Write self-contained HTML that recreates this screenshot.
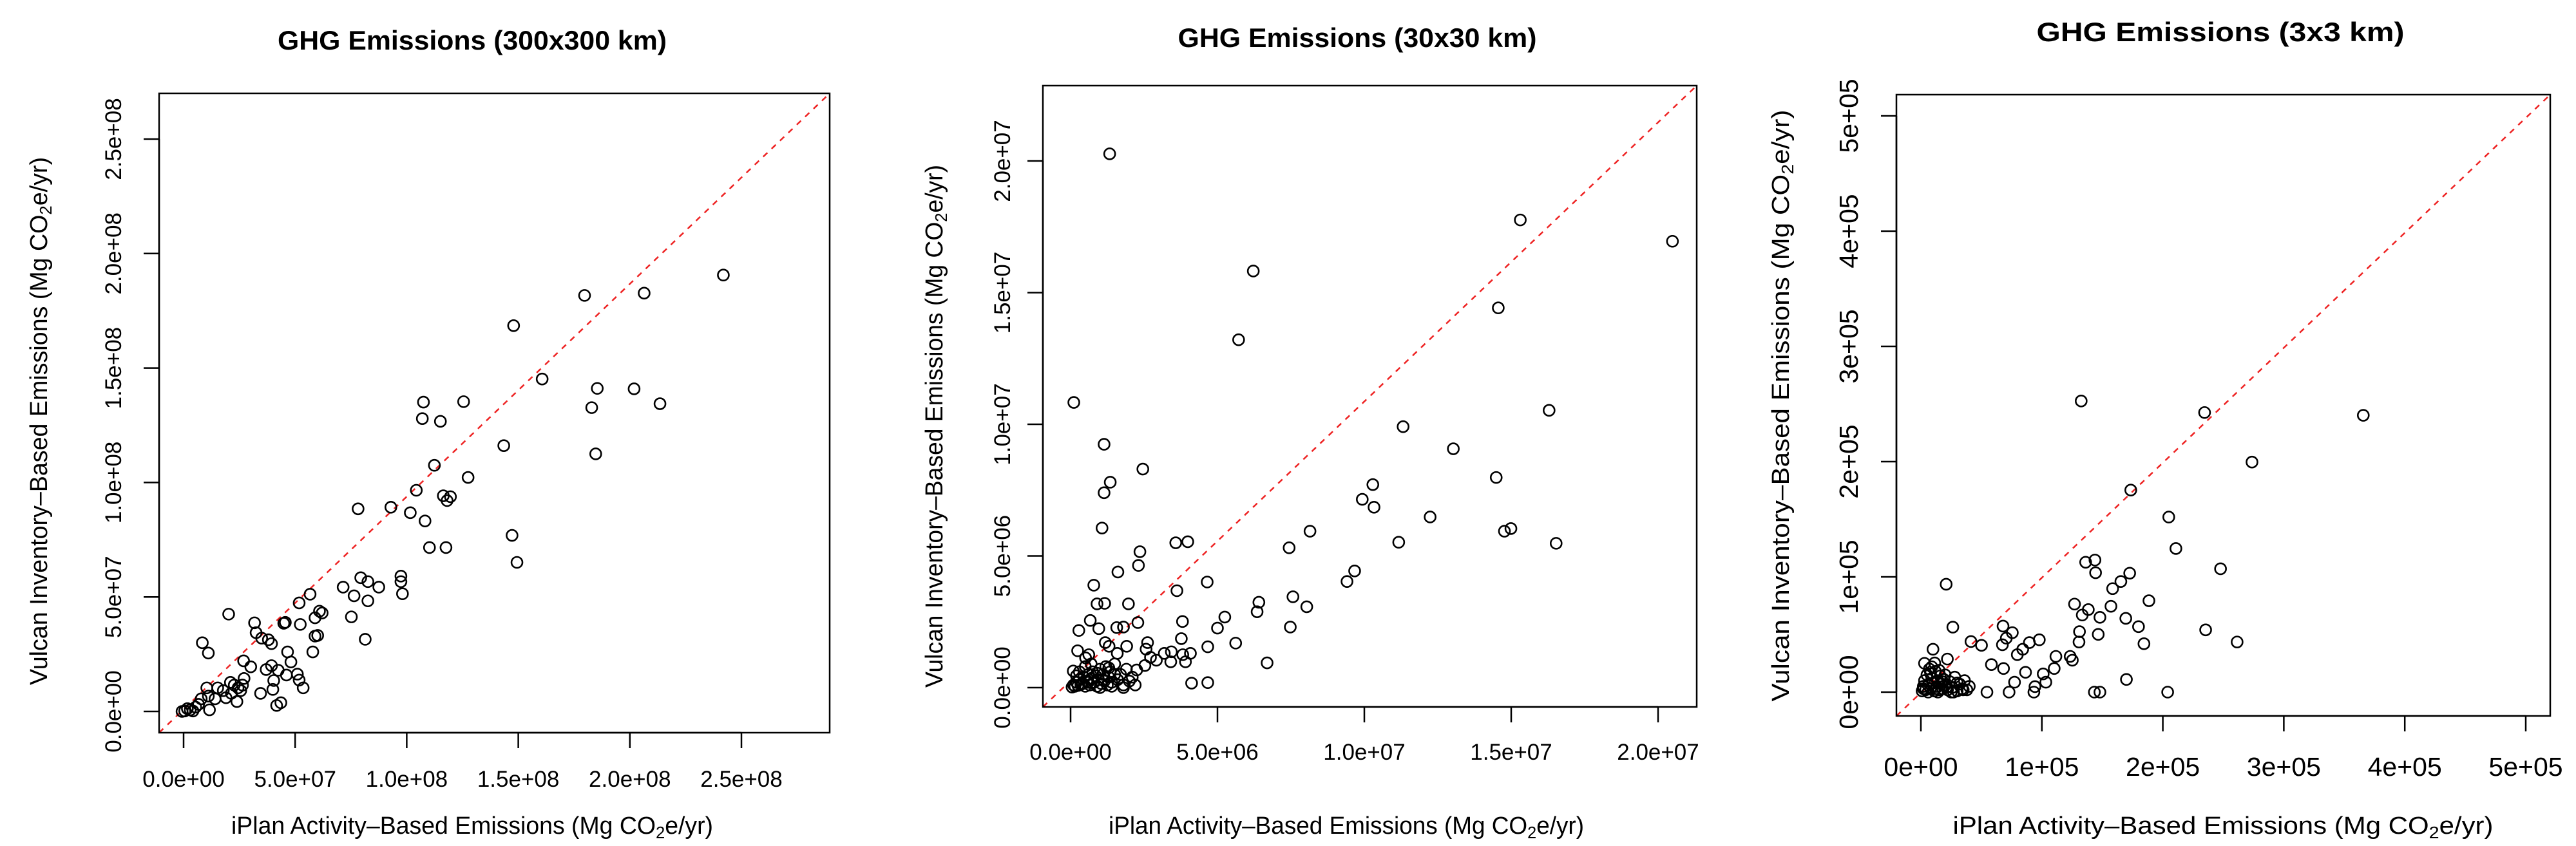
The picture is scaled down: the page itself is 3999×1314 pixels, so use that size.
<!DOCTYPE html>
<html><head><meta charset="utf-8"><style>
html,body{margin:0;padding:0;background:#fff;overflow:hidden;width:3999px;height:1314px;}
svg{display:block;font-family:"Liberation Sans",Arial,sans-serif;}
</style></head><body>
<svg id="chart" width="3999" height="1314" viewBox="0 0 3999 1314" xmlns="http://www.w3.org/2000/svg">
<rect width="3999" height="1314" fill="#fff"/>
</svg>
<script>
// ---------- Panel 1 (300x300 km), units 1e7 ----------
const p1X = [24.19,20.64,17.97,14.79,16.07,18.54,20.19,21.35,18.29,18.47,10.75,12.55,10.70,11.51,14.35,11.24,12.75,10.43,11.64,11.96,11.81,9.29,7.82,10.16,10.82,11.02,11.76,14.72,14.94,9.74,9.74,9.81,7.94,8.26,8.75,7.15,7.64,8.26,7.52,8.14,5.67,5.18,6.09,6.21,5.89,5.23,4.49,4.56,5.89,6.01,5.79,2.02,3.18,3.25,3.50,3.80,3.94,0.84,1.11,2.69,3.01,4.66,4.81,3.70,3.94,4.24,4.61,5.10,5.18,5.36,4.04,4.00,3.45,4.17,4.36,2.71,2.64,2.44,2.10,2.14,2.39,1.78,1.53,1.41,1.04,1.11,0.79,0.67,1.16,0.54,0.30,0.05,0.17,0.42,-0.07,1.90,2.27,2.56];
const p1Y = [19.06,18.27,18.17,16.85,14.52,14.11,14.09,13.44,13.27,11.25,13.51,13.53,12.79,12.67,11.61,10.75,10.22,9.66,9.42,9.38,9.21,8.92,8.85,8.68,8.32,7.16,7.16,7.69,6.51,5.91,5.67,5.14,5.84,5.67,5.43,5.43,5.05,4.83,4.13,3.15,5.12,4.74,4.38,4.30,4.09,3.80,3.85,3.89,3.29,3.32,2.60,4.25,3.87,3.44,3.20,3.13,2.96,3.00,2.55,2.21,1.95,2.60,2.16,1.83,2.00,1.80,1.59,1.63,1.37,1.03,1.35,0.96,0.79,0.26,0.38,1.44,1.15,1.03,1.27,0.79,0.43,0.91,1.03,0.55,1.03,0.67,0.55,0.31,0.07,0.19,0.07,0.02,0.12,0.02,0.00,0.60,1.15,0.91];
const p1Ticks = [0,5,10,15,20,25];
const p1Labels = ["0.0e+00","5.0e+07","1.0e+08","1.5e+08","2.0e+08","2.5e+08"];

// ---------- Panel 2 (30x30 km), units 1e6 ----------
const p2X = [1.33,15.31,20.49,6.22,14.56,5.72,0.11,16.29,11.32,1.14,13.03,2.46,1.35,1.14,10.29,14.49,9.93,10.33,12.24,1.07,8.15,14.77,14.99,7.44,11.17,16.53,3.58,3.99,2.36,2.31,1.61,0.79,4.65,3.62,9.67,9.41,0.90,1.16,1.97,6.41,6.35,7.57,8.04,5.25,5.00,7.48,3.81,2.29,0.67,0.96,0.28,1.57,1.80,5.62,4.67,6.69,4.12,4.67,3.77,3.82,4.08,3.91,3.41,3.19,3.43,2.62,2.57,2.72,2.92,2.53,2.25,1.91,1.59,1.18,1.31,0.24,0.62,0.51,0.09,
0.05,0.1,0.15,0.2,0.25,0.3,0.35,0.4,0.45,0.5,0.55,0.6,0.65,0.7,0.75,0.8,0.85,0.9,0.95,1.0,1.05,1.1,1.15,1.2,1.25,1.3,1.35,1.4,1.5,1.6,1.7,1.8,1.9,2.0,2.1,2.2,0.3,0.5,0.7,0.9,1.1,1.3,1.5,0.2,0.6,1.0,1.4,1.8];
const p2Y = [20.27,17.76,16.95,15.82,14.42,13.21,10.83,10.53,9.91,9.24,9.07,8.30,7.80,7.40,7.71,7.98,7.15,6.85,6.48,6.06,5.94,5.94,6.04,5.31,5.52,5.48,5.50,5.54,5.16,4.64,4.39,3.89,4.01,3.68,4.43,4.03,3.18,3.20,3.18,3.24,2.88,3.45,3.07,2.68,2.26,2.30,2.51,2.47,2.55,2.24,2.17,2.28,2.30,1.69,1.55,0.94,0.17,0.19,1.86,1.25,1.30,0.98,0.98,1.30,1.36,1.71,1.46,1.15,1.04,0.84,0.67,1.57,1.30,1.71,1.57,1.40,1.25,1.13,0.63,
0.02,0.1,0.05,0.2,0.08,0.3,0.12,0.15,0.4,0.05,0.25,0.5,0.1,0.35,0.6,0.2,0.45,0.05,0.3,0.7,0.15,0.5,0.25,0.8,0.1,0.4,0.6,0.2,0.9,0.3,0.5,0.1,0.7,0.25,0.4,0.1,0.6,0.8,0.9,0.55,0.3,0.75,0.5,0.45,0.2,0.0,0.05,0.0];
const p2Ticks = [0,5,10,15,20];
const p2Labels = ["0.0e+00","5.0e+06","1.0e+07","1.5e+07","2.0e+07"];

// ---------- Panel 3 (3x3 km), units 1e4 ----------
const p3X = [13.25,23.45,36.57,27.37,17.35,20.49,21.08,24.77,13.62,14.39,14.44,17.26,16.53,15.85,18.85,12.70,13.84,15.71,13.34,14.80,16.94,17.99,13.11,14.66,13.07,18.44,23.54,26.14,2.09,2.64,4.14,5.01,6.79,7.56,7.06,6.74,9.79,8.97,8.42,7.97,11.16,12.34,12.52,11.02,10.11,10.33,9.43,9.34,8.65,7.74,7.29,16.99,14.34,14.80,20.40,1.00,2.19,1.14,5.83,6.83,5.46,
0.1,0.2,0.3,0.4,0.5,0.6,0.7,0.8,0.9,1.0,1.1,1.2,1.3,1.4,1.5,1.6,1.7,1.8,1.9,2.0,2.2,2.4,2.6,2.8,3.0,3.2,3.4,3.6,3.8,4.0,0.3,0.6,0.9,1.2,1.5,1.8,2.1,2.5,3.0,3.5,0.2,0.8,1.4,2.0,2.7];
const p3Y = [25.26,24.26,24.02,19.96,17.53,15.19,12.46,10.70,11.27,11.46,10.36,10.32,9.60,8.98,7.93,7.64,7.16,7.45,6.69,6.49,6.40,5.68,5.25,5.01,4.35,4.20,5.40,4.35,9.36,5.64,4.39,4.06,5.73,5.16,4.68,4.11,4.54,4.30,3.72,3.25,3.10,3.10,2.77,2.05,1.58,0.86,0.48,0.00,1.72,0.86,0.00,1.10,0.00,0.00,0.00,3.72,2.87,2.53,2.39,2.05,0.00,
0.1,0.5,1.0,0.2,1.5,0.6,2.0,0.3,1.2,0.8,0.1,1.8,0.5,1.0,0.2,1.4,0.7,0.3,1.1,0.6,0.2,0.9,0.4,1.3,0.1,0.7,0.3,1.0,0.2,0.5,2.5,0.0,2.2,0.3,1.9,0.9,0.4,0.0,0.8,0.2,0.3,1.6,0.0,1.5,0.0];
const p3Ticks = [0,10,20,30,40,50];
const p3Labels = ["0e+00","1e+05","2e+05","3e+05","4e+05","5e+05"];

const NS = "http://www.w3.org/2000/svg";
const svg = document.getElementById("chart");
function mk(tag, attrs, parent) {
  const e = document.createElementNS(NS, tag);
  for (const k in attrs) e.setAttribute(k, attrs[k]);
  (parent || svg).appendChild(e);
  return e;
}

const panels = [
  {id:"p1", xs:p1X, ys:p1Y, ticks:p1Ticks, labels:p1Labels, title:"GHG Emissions (300x300 km)",
   box:[247,145,1288,1138], x0:285, xk:34.64, y0:1105, yk:35.56,
   tickFont:35, xLabY:1222, yLabX:188, titleX:733, titleY:77, titleW:604,
   xtX:733, xtY:1295, xtW:748, ytX:73, ytY:654, ytW:820},
  {id:"p2", xs:p2X, ys:p2Y, ticks:p2Ticks, labels:p2Labels, title:"GHG Emissions (30x30 km)",
   box:[1619,133,2634,1098], x0:1662, xk:45.6, y0:1068, yk:40.9,
   tickFont:35, xLabY:1180, yLabX:1568, titleX:2107, titleY:73, titleW:557,
   xtX:2090, xtY:1295, xtW:738, ytX:1463, ytY:662, ytW:812},
  {id:"p3", xs:p3X, ys:p3Y, ticks:p3Ticks, labels:p3Labels, title:"GHG Emissions (3x3 km)",
   box:[2944,147,3959,1112], x0:2982, xk:18.78, y0:1075, yk:17.9,
   tickFont:41, xLabY:1205, yLabX:2884, titleX:3447, titleY:64, titleW:571,
   xtX:3451, xtY:1295, xtW:839, ytX:2777, ytY:630, ytW:919}
];

panels.forEach(p => {
  const sx = v => p.x0 + v * p.xk;
  const sy = v => p.y0 - v * p.yk;
  const [L,T,R,B] = p.box;
  const g = mk("g", {});
  
  

  const t = mk("text", {x:p.titleX, y:p.titleY, "text-anchor":"middle", "font-size":42, "font-weight":"bold", textLength:p.titleW, lengthAdjust:"spacingAndGlyphs"}, g);
  t.textContent = p.title;
  
  

  // 1:1 reference line (equal axis limits -> box corner to corner)
  const dl = mk("line", {x1:L, y1:B, x2:R, y2:T, stroke:"#ee2222", "stroke-width":2.5, "stroke-dasharray":"9,9"}, g);
  
  

  const pg = mk("g", {fill:"none", stroke:"#000", "stroke-width":2.6}, g);
  
  
  for (let i = 0; i < p.xs.length; i++) {
    const c = mk("circle", {cx:sx(p.xs[i]), cy:sy(p.ys[i]), r:8.5}, pg);
    
    
  }

  const bx = mk("rect", {x:L, y:T, width:R-L, height:B-T, fill:"none", stroke:"#000", "stroke-width":2.5}, g);
  
  

  const xa = mk("g", {}, g);
  
  
  mk("line", {x1:sx(p.ticks[0]), y1:B, x2:sx(p.ticks[p.ticks.length-1]), y2:B, stroke:"#000", "stroke-width":2.5}, xa);
  p.ticks.forEach((v, i) => {
    mk("line", {x1:sx(v), y1:B, x2:sx(v), y2:B+24, stroke:"#000", "stroke-width":2.5}, xa);
    const tl = mk("text", {x:sx(v), y:p.xLabY, "text-anchor":"middle", "font-size":p.tickFont}, xa);
    tl.textContent = p.labels[i];
    
    
  });

  const ya = mk("g", {}, g);
  
  
  mk("line", {x1:L, y1:sy(p.ticks[0]), x2:L, y2:sy(p.ticks[p.ticks.length-1]), stroke:"#000", "stroke-width":2.5}, ya);
  p.ticks.forEach((v, i) => {
    mk("line", {x1:L-24, y1:sy(v), x2:L, y2:sy(v), stroke:"#000", "stroke-width":2.5}, ya);
    const tl = mk("text", {x:p.yLabX, y:sy(v), "text-anchor":"middle", "font-size":p.tickFont, transform:"rotate(-90 "+p.yLabX+" "+sy(v)+")"}, ya);
    tl.textContent = p.labels[i];
    
    
  });

  const xt = mk("text", {x:p.xtX, y:p.xtY, "text-anchor":"middle", "font-size":38, textLength:p.xtW, lengthAdjust:"spacingAndGlyphs"}, g);
  xt.innerHTML = 'iPlan Activity\u2013Based Emissions (Mg CO<tspan font-size="26" dy="7">2</tspan><tspan dy="-7">e/yr)</tspan>';
  
  

  const yt = mk("text", {x:p.ytX, y:p.ytY, "text-anchor":"middle", "font-size":38, textLength:p.ytW, lengthAdjust:"spacingAndGlyphs", transform:"rotate(-90 "+p.ytX+" "+p.ytY+")"}, g);
  yt.innerHTML = 'Vulcan Inventory\u2013Based Emissions (Mg CO<tspan font-size="26" dy="7">2</tspan><tspan dy="-7">e/yr)</tspan>';
  
  
});
</script>
</body></html>
